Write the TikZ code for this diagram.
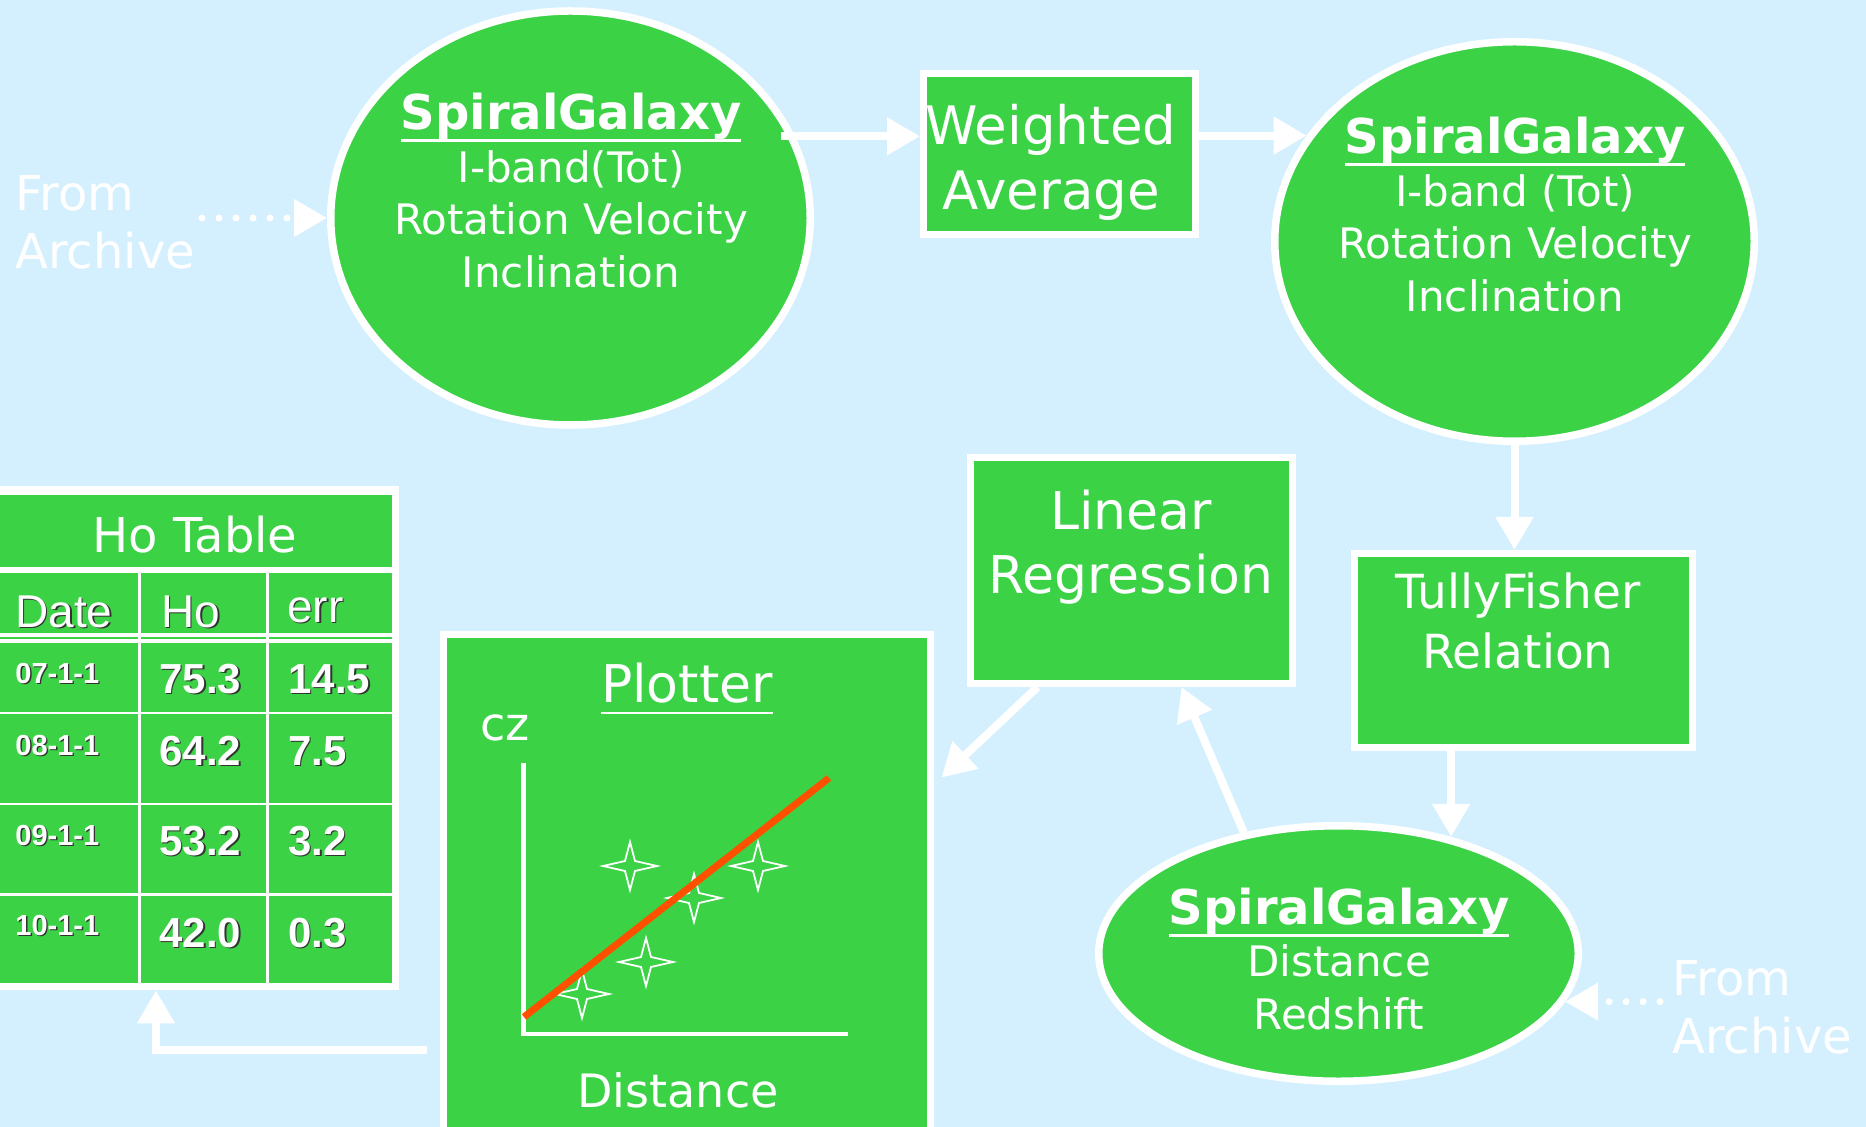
\documentclass[tikz,border=0pt]{standalone}
\usepackage{fontspec}
\setmainfont{DejaVu Sans}
\newfontfamily\tabfont{Liberation Sans}
\usetikzlibrary{arrows.meta,positioning,shapes.geometric,calc}
\definecolor{skyback}{RGB}{212,240,254}
\definecolor{galgreen}{RGB}{59,210,70}
\definecolor{fitred}{RGB}{255,80,0}
\definecolor{shadowgray}{RGB}{50,50,50}
% underlined title, rule just under the descenders
\newcommand{\galul}[1]{\vtop{\hbox{#1\vphantom{y}}\kern-0.5pt\hrule height 1.3pt}}
% white table text with a dark drop shadow
\newcommand{\shdw}[1]{\rlap{\kern0.7pt\raisebox{-0.7pt}{\color{shadowgray}#1}}#1}

\begin{document}
\begin{tikzpicture}[x=0.5pt,y=0.5pt,yscale=-1,
	galaxy/.style={ellipse,draw=white,fill=galgreen,line width=3.75pt,inner sep=0pt},
	procbox/.style={rectangle,draw=white,fill=galgreen,line width=3.5pt,inner sep=0pt},
	flow/.style={white,line width=4pt,-{Triangle[length=16.5pt,width=18pt]}},
	archive/.style={white,line width=3.5pt,line cap=round,dash pattern=on 0pt off 8.5pt,-{Triangle[length=16.5pt,width=18pt]}},
	wtext/.style={text=white,inner sep=0pt,align=center},
	galtext/.style={wtext,font=\fontsize{21}{26.2}\selectfont},
	boxtext/.style={wtext,font=\fontsize{26}{32.5}\selectfont},
	archtext/.style={text=white,inner sep=0pt,align=left,anchor=north west,font=\fontsize{24}{29}\selectfont},
	headtext/.style={text=white,inner sep=0pt,anchor=base west,font=\tabfont\fontsize{23}{27}\selectfont},
	datetext/.style={text=white,inner sep=0pt,anchor=base west,font=\tabfont\bfseries\fontsize{14.5}{17}\selectfont},
	valtext/.style={text=white,inner sep=0pt,anchor=base west,font=\tabfont\bfseries\fontsize{21}{25}\selectfont},
	starpt/.style={white,line width=0.9pt,line join=miter}]
		\useasboundingbox (0,0) rectangle (1866,1127);
		\clip (0,0) rectangle (1866,1127);
		\fill[skyback] (0,0) rectangle (1866,1127);
		
		%Shape: Ho table
		\node[fill=white,minimum width=209.5pt,minimum height=252pt,inner sep=0pt] (tbl) at (189.5,738) {};
		\fill[galgreen] (-20,495) rectangle (392,567);
		\foreach \ya/\yb in {573/633,643/712,714/803,805/893,896/983}
			\foreach \xa/\xb in {-20/138,141/266,269/392}
				\fill[galgreen] (\xa,\ya) rectangle (\xb,\yb);
		\foreach \xa/\xb in {-20/138,141/266,269/392}
			\draw[galgreen,line width=0.6pt] (\xa,638) -- (\xb,638);
		
		%Shape: Ellipses
		\node[galaxy,minimum width=239.75pt,minimum height=207pt] (ellA) at (570.5,218) {};
		\node[galaxy,minimum width=239.75pt,minimum height=199.75pt] (ellB) at (1514.5,241.5) {};
		\node[galaxy,minimum width=239.75pt,minimum height=127.75pt] (ellC) at (1338.5,953.5) {};
		
		%Shape: Boxes
		\node[procbox,minimum width=136pt,minimum height=80.5pt] (wavg) at (1059.5,154) {};
		\node[procbox,minimum width=161pt,minimum height=113pt] (linreg) at (1131.5,570.5) {};
		\node[procbox,minimum width=169pt,minimum height=97pt] (tf) at (1523.5,650.5) {};
		\node[procbox,minimum width=243.5pt,minimum height=263pt] (plot) at (686.5,897) {};
		
		%Shape: plot axes, stars and fitted line
		\draw[white,line width=2.4pt] (523.5,763) -- (523.5,1034) -- (848,1034);
		\foreach \sx/\sy in {630/866,694/898,758/866,646/962,582/994}
			\draw[starpt] (\sx,\sy) +(0,-24) -- +(5,-5) -- +(27,0) -- +(5,5) -- +(0,24) -- +(-5,5) -- +(-27,0) -- +(-5,-5) -- cycle;
		\draw[fitred,line width=3.5pt] (524,1017) -- (829,778);
		
		%Straight Lines: connectors
		\coordinate (arcA) at ($(ellA.west)+(-125,0)$);
		\coordinate (arcC) at ($(ellC.-12)+(95,0)$);
		\coordinate (pout) at (427,1050);
		\draw[archive] (arcA) -- (ellA.west);
		\draw[archive] (arcC) -- (ellC.-12);
		\draw[flow] ($(ellA.20)+(-14,0)$) -- (ellA.20 -| wavg.west);
		\draw[flow] (ellB.153 -| wavg.east) -- (ellB.153);
		\draw[flow] (ellB.south) -- (ellB.south |- tf.north);
		\draw[flow] (ellC.46 |- tf.south) -- (ellC.46);
		\draw[flow] (ellC.128) -- ($(linreg.south)+(50,0)$);
		\draw[flow] ($(linreg.south)+(-94,0)$) -- ($(plot.north east)+(8,147)$);
		\draw[flow] (pout) -| ($(tbl.south)+(-33.5,0)$);
		
		% Text Node
		\node[galtext] (galA) at (571,190.5) {{\fontsize{24}{26.2}\selectfont\bfseries\galul{SpiralGalaxy}}\\I-band(Tot)\\Rotation Velocity\\Inclination};
		% Text Node
		\node[galtext] (galB) at (1515,214.5) {{\fontsize{24}{26.2}\selectfont\bfseries\galul{SpiralGalaxy}}\\I-band (Tot)\\Rotation Velocity\\Inclination};
		% Text Node
		\node[galtext] (galC) at (1339,959) {{\fontsize{24}{26.2}\selectfont\bfseries\galul{SpiralGalaxy}}\\Distance\\Redshift};
		% Text Node
		\node[boxtext,font=\fontsize{26.5}{32.5}\selectfont] (wavglbl) at (1051,162) {Weighted\\Average};
		% Text Node
		\node[boxtext,font=\fontsize{26}{32}\selectfont] (linlbl) at (1131,547.5) {Linear\\Regression};
		% Text Node
		\node[wtext,font=\fontsize{23.5}{30}\selectfont] (tflbl) at (1518,621) {TullyFisher\\Relation};
		% Text Node
		\node[wtext,font=\fontsize{26}{30}\selectfont,anchor=base] (plotlbl) at (687,702) {\galul{Plotter}};
		\node[wtext,font=\fontsize{23}{27}\selectfont,anchor=base west] (czlbl) at (480,740) {cz};
		\node[wtext,font=\fontsize{23}{27}\selectfont,anchor=base] (distlbl) at (678,1107) {Distance};
		% Text Node
		\node[archtext] (fromA) at (15,175) {From\\Archive};
		\node[archtext] (fromC) at (1672,960) {From\\Archive};
		
		% Text Node: table
		\node[wtext,font=\fontsize{24}{29}\selectfont] (hotitle) at (195,535) {Ho Table};
		\node[headtext] (hdate) at (15,627) {\shdw{Date}};
		\node[headtext] (hho) at (161,627) {\shdw{Ho}};
		\node[headtext] (herr) at (287,622) {\shdw{err}};
		\foreach \dt/\hv/\ev/\yd/\yv [count=\i] in {07-1-1/75.3/14.5/683/693,08-1-1/64.2/7.5/755/765,09-1-1/53.2/3.2/845/855,10-1-1/42.0/0.3/935/947} {
			\node[datetext] (dt\i) at (15,\yd) {\shdw{\dt}};
			\node[valtext] (ho\i) at (159,\yv) {\shdw{\hv}};
			\node[valtext] (er\i) at (288,\yv) {\shdw{\ev}};
		}
		
\end{tikzpicture}
\end{document}
